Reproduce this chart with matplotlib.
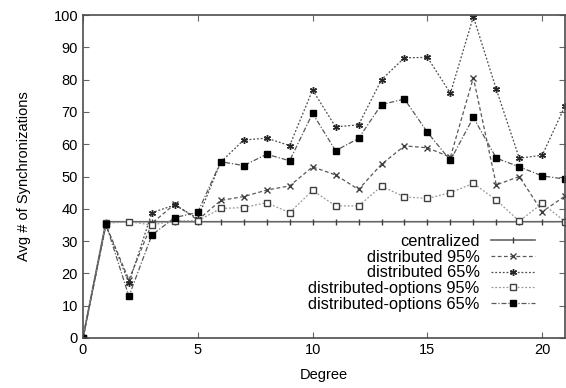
import matplotlib
matplotlib.use("Agg")
import matplotlib.pyplot as plt

plt.rcParams['font.family'] = ['Liberation Sans', 'DejaVu Sans']
plt.rcParams['font.size'] = 10.5

degree = list(range(22))

centralized = [0] + [36] * 21
dist95 = [0, 35, 18, 35.5, 41.5, 36.5, 42.6, 43.8, 45.8, 47.1, 53, 50.5,
          46, 53.8, 59.5, 58.9, 56, 80.6, 47.4, 50, 39.1, 44]
dist65 = [0, 35, 17, 38.8, 41.2, 37, 54.5, 61.3, 61.9, 59.6, 76.8, 65.4,
          66, 80, 86.8, 86.9, 75.8, 99.5, 77, 55.7, 56.6, 72]
opt95 = [0, 35.5, 36, 35, 36.3, 36.3, 40.1, 40.4, 41.9, 38.8, 45.7, 40.9,
         40.9, 47, 43.7, 43.2, 45, 47.9, 42.7, 36.2, 41.7, 36]
opt65 = [0, 35.3, 12.9, 31.9, 37.3, 38.9, 54.6, 53.4, 56.9, 54.9, 69.6, 58,
         61.8, 72.3, 74, 63.7, 55, 68.3, 55.7, 53, 50.2, 49.2]

fig = plt.figure(figsize=(5.66, 3.88), dpi=100)
ax = fig.add_axes([0.1466, 0.129, 0.852, 0.832])

ax.plot(degree, centralized, color='0.4', lw=1.2, ls='-', marker='|',
        ms=4.5, mec='0.25', label='centralized')
ax.plot(degree, dist95, color='0.35', lw=0.9, ls=(0, (3, 2)), marker='x',
        ms=4, mec='0.25', label='distributed 95%')
ax.plot(degree, dist65, color='0.3', lw=0.9, ls=(0, (1.5, 1.5)), marker=(6, 2, 0),
        ms=5, mec='0.15', label='distributed 65%')
ax.plot(degree, opt95, color='0.6', lw=0.9, ls=(0, (1.5, 1.5)), marker='s',
        ms=4, mfc='white', mec='0.25', label='distributed-options 95%')
ax.plot(degree, opt65, color='0.35', lw=0.9, ls=(0, (4, 1.5, 1, 1.5)), marker='s',
        ms=4.5, mfc='black', mec='black', label='distributed-options 65%')

ax.set_xlim(0, 21)
ax.set_ylim(0, 100)
ax.set_xticks([0, 5, 10, 15, 20])
ax.set_yticks(range(0, 101, 10))
ax.tick_params(direction='in', top=True, right=True, length=4, color='0.4')
for s in ax.spines.values():
    s.set_color('0.3')
    s.set_linewidth(1.2)

ax.set_xlabel('Degree', labelpad=8)
ax.set_ylabel('Avg # of Synchronizations', labelpad=16)

ax.legend(loc='lower right', bbox_to_anchor=(0.955, 0.055), frameon=False,
          markerfirst=False, handlelength=2.7, labelspacing=0.05,
          handletextpad=0.7, borderpad=0, fontsize=11.8)

fig.savefig('out.png', dpi=100)
